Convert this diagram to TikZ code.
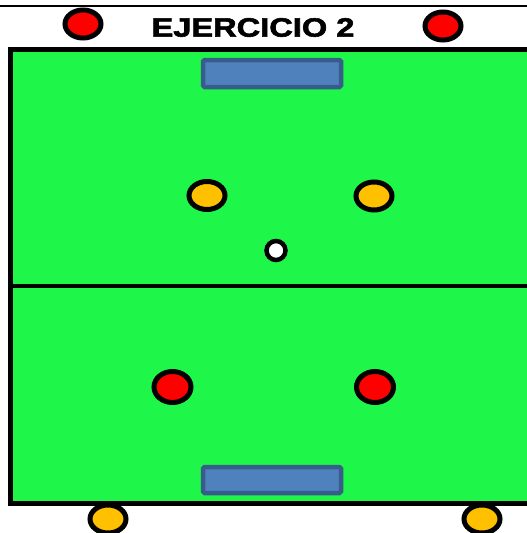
\documentclass[tikz,border=0pt]{standalone}
\usepackage{fontspec}
\setmainfont{Liberation Sans}
\newfontfamily\titulofont[FakeBold=2]{Liberation Sans Bold}
\usetikzlibrary{shapes.geometric}
\definecolor{cancha}{RGB}{30,247,74}
\definecolor{amarillo}{RGB}{255,192,0}
\definecolor{azulporteria}{RGB}{79,129,189}
\definecolor{bordeporteria}{RGB}{56,93,138}
\begin{document}
\begin{tikzpicture}[x=1pt,y=-1pt,
  jugador/.style={ellipse,draw=black,line width=5pt,inner sep=0pt,minimum width=36pt,minimum height=28pt},
  rojo/.style={jugador,fill=red},
  amari/.style={jugador,fill=amarillo},
  porteria/.style={draw=bordeporteria,fill=azulporteria,line width=4.5pt,rounded corners=1.5pt}]
\clip (0,0) rectangle (527,533);
\fill[white] (0,0) rectangle (527,533);
% campo
\draw[line width=2.5pt] (0,6) -- (527,6);
\draw[fill=cancha,line width=5pt] (10.5,49) rectangle (545,503);
\draw[line width=4pt] (13,285.5) -- (527,285.5);
\draw[porteria] (203,60) rectangle (341,87);
\draw[porteria] (203,467) rectangle (341,493);
\node (titulo) at (253,27.5) [xscale=1.23] {\fontsize{26.5}{30}\selectfont\titulofont EJERCICIO 2};
% jugadores
\node[rojo] (r1) at (83,24) {};
\node[rojo] (r2) at (443,26) {};
\node[amari] (a1) at (207,195.5) {};
\node[amari] (a2) at (374,196) {};
\node[rojo,minimum width=37pt,minimum height=31pt] (r3) at (172.5,387) {};
\node[rojo,minimum width=37pt,minimum height=31pt] (r4) at (375,387) {};
\node[amari] (a3) at (108,519) {};
\node[amari] (a4) at (482,519) {};
\node[circle,draw=black,fill=white,line width=4.5pt,minimum size=19pt,inner sep=0pt] (balon) at (276,250.5) {};
\end{tikzpicture}
\end{document}
